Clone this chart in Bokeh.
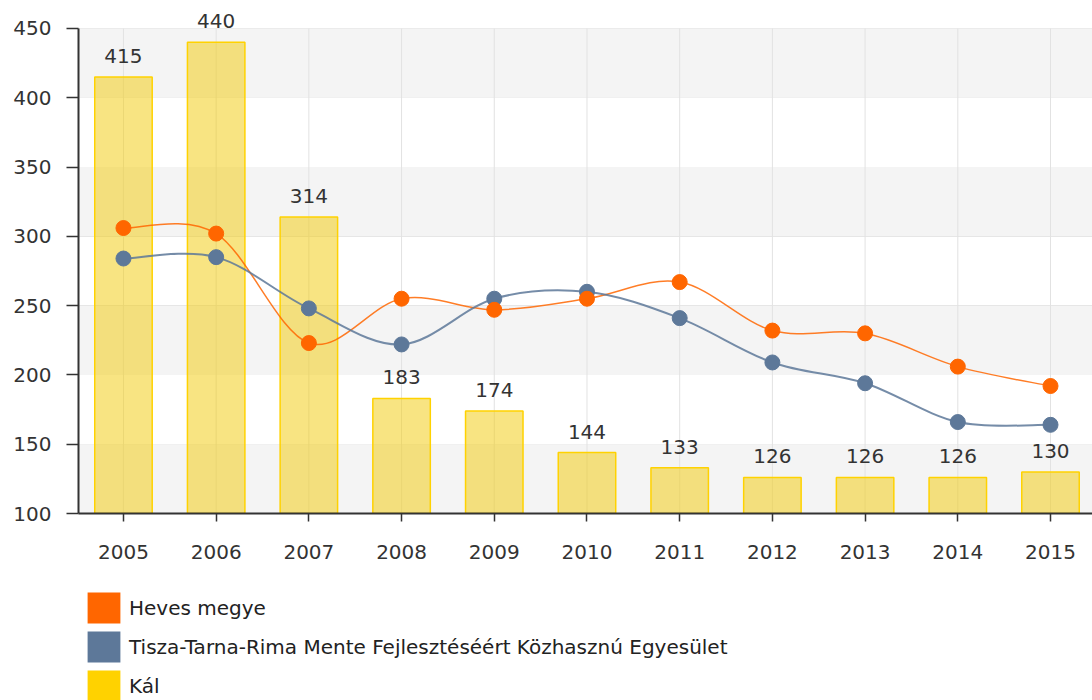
from bokeh.plotting import figure
from bokeh.models import (FixedTicker, Range1d, Legend, LegendItem, ColumnDataSource,
                          BoxAnnotation, LabelSet)
from bokeh.layouts import column
from bokeh.core.properties import value
from bokeh.embed import file_html
from bokeh.resources import INLINE

years = [2005, 2006, 2007, 2008, 2009, 2010, 2011, 2012, 2013, 2014, 2015]
year_labels = ["2005", "2006", "2007", "2008", "2009", "2010", "2011", "2012", "2013", "2014", "2015"]
heves = [306, 302, 223, 255, 247, 255, 267, 232, 230, 206, 192]
tisza = [284, 285, 248, 222, 255, 260, 241, 209, 194, 166, 164]
kal = [415, 440, 314, 183, 174, 144, 133, 126, 126, 126, 130]
series_names = ["Heves megye", "Tisza-Tarna-Rima Mente Fejlesztéséért Közhasznú Egyesület", "Kál"]
y_ticks = [100, 150, 200, 250, 300, 350, 400, 450]

ORANGE = "#FF6600"
BLUE = "#5D7899"
GOLD = "#FFD200"
BAR_FILL = "#F2CB10"
FONT = "DejaVu Sans"
TXT = "#333333"

# y range extends a little above 450 so that the value label of the tallest bar is not clipped
p = figure(width=1092, height=573, output_backend="svg", toolbar_location=None,
           x_range=Range1d(2004.515, 2015.453), y_range=Range1d(100, 470.2),
           min_border_left=78, min_border_top=0, min_border_right=0, min_border_bottom=60)
p.outline_line_color = None
p.background_fill_color = "white"

# alternating bands (from tick list)
for b, t in zip(y_ticks[0::2], y_ticks[1::2]):
    p.add_layout(BoxAnnotation(bottom=b, top=t, fill_color="#f4f4f4", fill_alpha=1,
                               line_color=None, level="underlay"))

# grid
p.ygrid.ticker = FixedTicker(ticks=y_ticks)
p.ygrid.grid_line_color = "#e2e2e2"
p.xgrid.visible = False
p.segment(x0=years, y0=y_ticks[0], x1=years, y1=y_ticks[-1], line_color="#e2e2e2", line_width=1)

# axes
p.yaxis.ticker = FixedTicker(ticks=y_ticks)
p.yaxis.bounds = (y_ticks[0], y_ticks[-1])
p.xaxis.ticker = FixedTicker(ticks=years)
p.xaxis.major_label_overrides = {y: l for y, l in zip(years, year_labels)}
for ax in (p.xaxis, p.yaxis):
    ax.axis_line_color = "#333333"
    ax.axis_line_width = 2
    ax.major_tick_line_color = "#333333"
    ax.major_tick_line_width = 1.5
    ax.minor_tick_line_color = None
    ax.major_tick_in = 0
    ax.major_label_text_font = FONT
    ax.major_label_text_font_size = "20px"
    ax.major_label_text_color = TXT
p.yaxis.major_tick_out = 12
p.yaxis.major_label_standoff = 15
p.xaxis.major_tick_out = 8
p.xaxis.major_label_standoff = 23

# bars
bar_src = ColumnDataSource(dict(x=years, top=kal, txt=[str(v) for v in kal]))
p.vbar(x="x", top="top", bottom=100, width=0.62, source=bar_src, fill_color=BAR_FILL,
       fill_alpha=0.52, line_color=GOLD, line_width=1.5)
p.add_layout(LabelSet(x="x", y="top", text="txt", source=bar_src, text_align="center",
                      text_baseline="alphabetic", y_offset=14, text_font=value(FONT),
                      text_font_size=value("20px"), text_color=TXT))


def spline(xs, ys):
    n = len(xs)
    d = dict(x0=[], y0=[], x1=[], y1=[], cx0=[], cy0=[], cx1=[], cy1=[])
    for i in range(n - 1):
        im = max(i - 1, 0)
        ip2 = min(i + 2, n - 1)
        d["x0"].append(xs[i]); d["y0"].append(ys[i])
        d["x1"].append(xs[i + 1]); d["y1"].append(ys[i + 1])
        d["cx0"].append(xs[i] + (xs[i + 1] - xs[im]) / 6)
        d["cy0"].append(ys[i] + (ys[i + 1] - ys[im]) / 6)
        d["cx1"].append(xs[i + 1] - (xs[ip2] - xs[i]) / 6)
        d["cy1"].append(ys[i + 1] - (ys[ip2] - ys[i]) / 6)
    return ColumnDataSource(d)


for ys, col, lw in ((heves, ORANGE, 1.5), (tisza, BLUE, 2)):
    p.bezier(x0="x0", y0="y0", x1="x1", y1="y1", cx0="cx0", cy0="cy0", cx1="cx1", cy1="cy1",
             source=spline(years, ys), line_color=col, line_width=lw, line_alpha=0.85)
for ys, col in ((tisza, BLUE), (heves, ORANGE)):
    p.scatter(x=years, y=ys, size=15, marker="circle", fill_color=col, line_color=col)

# legend in its own strip below the chart
lg = figure(width=1092, height=127, output_backend="svg", toolbar_location=None,
            x_range=Range1d(0, 1), y_range=Range1d(0, 1),
            x_axis_location=None, y_axis_location=None,
            min_border_left=0, min_border_right=0, min_border_top=0, min_border_bottom=0)
lg.outline_line_color = None
lg.xgrid.visible = False
lg.ygrid.visible = False

dummy = ColumnDataSource(dict(l=[float("nan")], r=[float("nan")], b=[float("nan")], t=[float("nan")]))
items = []
for name, col in zip(series_names, (ORANGE, BLUE, GOLD)):
    r = lg.quad(left="l", right="r", bottom="b", top="t", source=dummy,
                fill_color=col, line_color=None)
    items.append(LegendItem(label=name, renderers=[r]))

legend = Legend(items=items, orientation="vertical", location=(5, -5),
                glyph_width=41, glyph_height=39, spacing=0, label_standoff=5,
                padding=0, margin=0, border_line_color=None,
                label_text_font=FONT, label_text_font_size="20px", label_text_color="#222222",
                background_fill_alpha=0)
lg.add_layout(legend, "center")

open("out.html", "w").write(file_html(column(p, lg, spacing=0), INLINE))
